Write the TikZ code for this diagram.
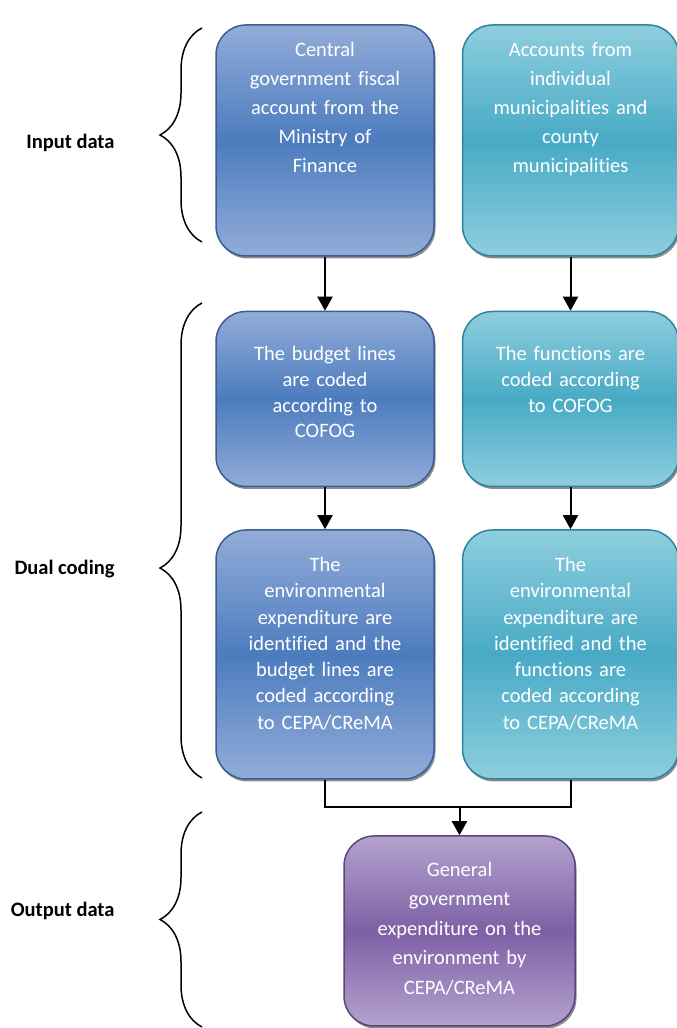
\documentclass[tikz,border=0pt]{standalone}
\usepackage{fontspec}
\setmainfont{Carlito}[Ligatures=CommonOff]
\usetikzlibrary{arrows.meta, positioning, decorations.pathreplacing, shadows}
\definecolor{blueTop}{RGB}{146,172,216}
\definecolor{blueMid}{RGB}{76,124,190}
\definecolor{blueEdge}{RGB}{58,94,146}
\definecolor{tealTop}{RGB}{142,206,222}
\definecolor{tealMid}{RGB}{72,170,197}
\definecolor{tealEdge}{RGB}{46,132,158}
\definecolor{purTop}{RGB}{180,162,205}
\definecolor{purMid}{RGB}{126,96,165}
\definecolor{purEdge}{RGB}{92,68,128}
\tikzset{
    block/.style={rectangle, rounded corners=30pt, line width=1.5pt, text=white, text width=188pt, align=center, inner ysep=0pt, drop shadow={shadow xshift=1.5pt, shadow yshift=-2.5pt, fill=black, opacity=0.45}},
    blueblock/.style={block, draw=blueEdge, top color=blueTop, bottom color=blueTop, middle color=blueMid, minimum width=218pt},
    tealblock/.style={block, draw=tealEdge, top color=tealTop, bottom color=tealTop, middle color=tealMid, minimum width=216pt},
    purpleblock/.style={block, draw=purEdge, top color=purTop, bottom color=purTop, middle color=purMid, minimum width=231pt},
    textlines/.style n args={3}{text height=#1, text depth=#2, font=\fontsize{20.5}{#3}\selectfont},
    arrow/.style={-{Triangle[width=15pt,length=14pt]}, line width=2pt},
    link/.style={line width=2pt},
    bracebar/.style={decorate, decoration={brace, amplitude=42pt, #1}, line width=1.5pt},
    bracebar/.default={aspect=0.5},
    sidelabel/.style={font=\fontsize{20.5}{25}\selectfont\bfseries, anchor=east},
}
\begin{document}
\begin{tikzpicture}[x=1pt, y=1pt]
\useasboundingbox (0,0) rectangle (677,1028);

% Input data
\node[blueblock, textlines={32pt}{199pt}{29pt}] (cg) at (325,887.5) {Central\\government fiscal\\account from the\\Ministry of\\Finance};
\node[tealblock, textlines={32pt}{199pt}{29pt}, right=27pt of cg] (mu) {Accounts from\\individual\\municipalities and\\county\\municipalities};

% Dual coding
\node[blueblock, textlines={49.5pt}{125.5pt}{25.6pt}, below=54pt of cg] (cgc) {The budget lines\\are coded\\according to\\COFOG};
\node[tealblock, textlines={49.5pt}{125.5pt}{25.6pt}, below=54pt of mu] (muc) {The functions are\\coded according\\to COFOG};
\node[blueblock, textlines={41.5pt}{207.5pt}{26.3pt}, below=42pt of cgc] (cge) {The\\environmental\\expenditure are\\identified and the\\budget lines are\\coded according\\to CEPA/CReMA};
\node[tealblock, textlines={41.5pt}{207.5pt}{26.3pt}, below=42pt of muc] (mue) {The\\environmental\\expenditure are\\identified and the\\functions are\\coded according\\to CEPA/CReMA};

% Output data
\node[purpleblock, textlines={40.5pt}{149.5pt}{29.5pt}] (gge) at (459.5,97) {General\\government\\expenditure on the\\environment by\\CEPA/CReMA};

% Connections
\draw[arrow] (cg) -- (cgc);
\draw[arrow] (mu) -- (muc);
\draw[arrow] (cgc) -- (cge);
\draw[arrow] (muc) -- (mue);
\coordinate (join) at (0,221);
\draw[link] (cge.south) |- (mue.south |- join) -- (mue.south);
\draw[arrow] (gge.north |- join) -- (gge.north);

% Braces and stage labels
\draw[bracebar] (202,786) -- (202,1000);
\draw[bracebar={aspect=0.442}] (202,250) -- (202,725);
\draw[bracebar] (202,1) -- (202,216);
\node[sidelabel] (inlab) at (118,885) {Input data};
\node[sidelabel] (duallab) at (118,459) {Dual coding};
\node[sidelabel] (outlab) at (118,117) {Output data};
\end{tikzpicture}
\end{document}
